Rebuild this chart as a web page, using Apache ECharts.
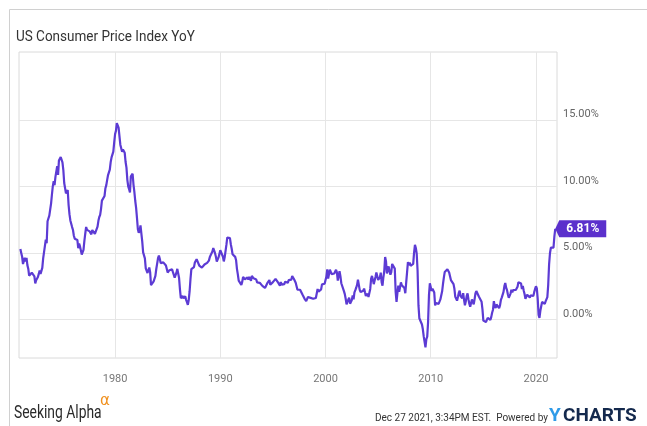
<!DOCTYPE html>
<html><head><meta charset="utf-8">
<script src="https://cdn.jsdelivr.net/npm/echarts@6/dist/echarts.min.js"></script>
<style>html,body{margin:0;padding:0;background:#fff}#chart{width:647px;height:426px}</style>
</head><body><div id="chart"></div>
<script>
// Monthly US CPI YoY (%) starting January 1971, through November 2021
const startYear = 1971;
const cpiYoY = [
  5.29,5.00,4.71,4.16,4.40,4.64,4.36,4.62,4.08,3.81,3.29,3.27,
  3.27,3.51,3.50,3.49,3.23,2.71,2.95,2.94,3.19,3.42,3.67,3.41,
  3.65,3.87,4.59,5.06,5.53,5.99,5.73,7.38,7.36,7.80,8.25,8.71,
  9.39,10.02,10.39,10.09,10.71,10.86,11.51,10.86,11.95,12.06,12.20,12.34,
  11.80,11.23,10.25,10.21,9.47,9.39,9.72,8.60,7.91,7.44,7.38,6.94,
  6.72,6.29,6.07,6.05,6.20,5.97,5.35,5.71,5.49,5.46,4.88,4.86,
  5.22,5.91,6.44,6.95,6.73,6.87,6.83,6.62,6.60,6.39,6.72,6.70,
  6.84,6.43,6.55,6.50,6.97,7.41,7.70,7.86,8.31,8.93,8.89,9.02,
  9.28,9.86,10.09,10.49,10.85,10.89,11.26,11.82,12.18,12.07,12.61,13.29,
  13.91,14.18,14.76,14.73,14.41,14.38,13.13,12.87,12.60,12.77,12.65,12.52,
  11.83,11.41,10.49,10.00,9.78,9.55,10.76,10.80,10.95,10.14,9.59,8.92,
  8.39,7.62,6.78,6.51,6.68,7.06,6.44,5.85,5.04,5.14,4.59,3.83,
  3.71,3.49,3.60,3.90,3.55,2.58,2.46,2.56,2.86,2.85,3.27,3.79,
  4.19,4.60,4.80,4.56,4.23,4.22,4.20,4.29,4.27,4.26,4.05,3.95,
  3.53,3.52,3.70,3.69,3.77,3.76,3.55,3.35,3.14,3.23,3.51,3.80,
  3.89,3.11,2.26,1.59,1.49,1.77,1.58,1.57,1.75,1.47,1.30,1.10,
  1.46,2.10,3.03,3.78,3.86,3.65,3.93,4.28,4.36,4.53,4.53,4.43,
  4.05,3.94,3.93,3.89,3.89,3.96,4.13,4.02,4.17,4.25,4.25,4.42,
  4.67,4.83,4.98,5.11,5.36,5.17,4.98,4.71,4.34,4.49,4.66,4.65,
  5.20,5.26,5.23,4.71,4.36,4.67,4.82,5.62,6.16,6.29,6.27,6.11,
  5.65,5.31,4.90,4.89,4.95,4.70,4.45,3.80,3.39,2.92,2.99,3.06,
  2.60,2.82,3.19,3.18,3.02,3.09,3.16,3.15,2.99,3.20,3.05,2.90,
  3.26,3.25,3.09,3.23,3.22,3.00,2.78,2.77,2.69,2.75,2.68,2.75,
  2.52,2.52,2.51,2.36,2.29,2.49,2.77,2.90,2.96,2.61,2.67,2.67,
  2.80,2.86,2.85,3.05,3.19,3.04,2.76,2.62,2.54,2.81,2.61,2.54,
  2.73,2.65,2.84,2.90,2.89,2.75,2.95,2.88,3.00,2.99,3.26,3.32,
  3.04,3.03,2.76,2.50,2.23,2.30,2.23,2.23,2.15,2.08,1.83,1.70,
  1.57,1.44,1.37,1.44,1.69,1.68,1.68,1.62,1.49,1.49,1.55,1.61,
  1.67,1.61,1.73,2.28,2.09,1.96,2.14,2.26,2.63,2.56,2.62,2.68,
  2.74,3.22,3.76,3.07,3.19,3.73,3.66,3.41,3.45,3.45,3.45,3.39,
  3.73,3.53,2.92,3.27,3.62,3.25,2.72,2.72,2.65,2.13,1.90,1.55,
  1.14,1.14,1.48,1.64,1.18,1.07,1.46,1.80,1.51,2.03,2.20,2.38,
  2.60,2.98,3.02,2.22,2.06,2.11,2.11,2.16,2.32,2.04,1.77,1.88,
  1.93,1.69,1.74,2.29,3.05,3.27,2.99,2.65,2.54,3.19,3.52,3.26,
  2.97,3.01,3.15,3.51,2.80,2.53,3.17,3.64,4.69,4.35,3.46,3.42,
  3.99,3.60,3.36,3.55,4.17,4.32,4.15,3.82,2.06,1.31,1.97,2.54,
  2.08,2.42,2.78,2.57,2.69,2.69,2.36,1.97,2.76,3.54,4.31,4.08,
  4.28,4.03,3.98,3.94,4.18,5.02,5.60,5.37,4.94,3.66,1.07,0.09,
  0.03,0.24,-0.38,-0.74,-1.28,-1.43,-2.10,-1.48,-1.29,-0.18,1.84,2.72,
  2.63,2.14,2.31,2.24,2.02,1.05,1.24,1.15,1.14,1.17,1.14,1.50,
  1.63,2.11,2.68,3.16,3.57,3.56,3.63,3.77,3.87,3.53,3.39,2.96,
  2.93,2.87,2.65,2.30,1.70,1.66,1.41,1.69,1.99,2.16,1.76,1.74,
  1.59,1.98,1.47,1.06,1.36,1.75,1.96,1.52,1.18,0.96,1.24,1.50,
  1.58,1.13,1.51,1.95,2.13,2.07,1.99,1.70,1.66,1.66,1.32,0.76,
  -0.09,-0.03,-0.07,-0.20,-0.04,0.12,0.17,0.20,-0.04,0.17,0.50,0.73,
  1.37,1.02,0.85,1.13,1.02,1.01,0.84,1.06,1.46,1.64,1.69,2.07,
  2.50,2.74,2.38,2.20,1.87,1.63,1.73,1.94,2.23,2.04,2.20,2.11,
  2.07,2.21,2.36,2.46,2.80,2.87,2.95,2.70,2.28,2.52,2.18,1.91,
  1.55,1.52,1.86,2.00,1.79,1.65,1.81,1.75,1.71,1.76,2.05,2.29,
  2.49,2.33,1.54,0.33,0.12,0.65,0.99,1.31,1.37,1.18,1.17,1.36,
  1.40,1.68,2.62,4.16,4.99,5.39,5.37,5.25,5.39,6.22,6.81
];
const xTickYears = [1980, 1990, 2000, 2010, 2020];
const yTickValues = [0, 5, 10, 15];
const titleText = 'US Consumer Price Index YoY';
const latestLabel = '6.81%';

const seriesData = cpiYoY.map((v, i) => [startYear + i / 12, v]);
const lastPoint = seriesData[seriesData.length - 1];

const chart = echarts.init(document.getElementById('chart'), null, {renderer: 'canvas'});
chart.setOption({
  animation: false,
  backgroundColor: '#fff',
  grid: {left: 19, right: 90, top: 52, bottom: 68, show: true, borderColor: '#dadada', borderWidth: 1, backgroundColor: 'transparent'},
  xAxis: {
    type: 'value', min: 1970.87, max: 2022.0,
    axisLine: {show: false},
    axisTick: {show: false, customValues: xTickYears},
    axisLabel: {customValues: xTickYears, color: '#777', fontSize: 11, margin: 16, fontFamily: 'Roboto', formatter: v => String(Math.round(v))},
    splitLine: {show: true, lineStyle: {color: '#e6e6e6', width: 1}}
  },
  yAxis: {
    type: 'value', position: 'right', min: -2.9, max: 20.1,
    axisLine: {show: false},
    axisTick: {show: false, customValues: yTickValues},
    axisLabel: {customValues: yTickValues, color: '#666', fontSize: 11, margin: 6, align: 'left', verticalAlign: 'bottom', fontFamily: 'Roboto', formatter: v => v.toFixed(2) + '%'},
    splitLine: {show: true, lineStyle: {color: '#e6e6e6', width: 1}}
  },
  series: [{
    type: 'line', data: seriesData, showSymbol: false, symbol: 'none',
    lineStyle: {color: '#5c3bd4', width: 2.2},
    markPoint: {
      symbol: 'path://M0,8.5L4,0L51,0L51,17L4,17Z',
      symbolSize: [51, 17], symbolOffset: [25.5, 0],
      itemStyle: {color: '#5b30cc'},
      label: {show: true, formatter: latestLabel, color: '#fff', fontWeight: 'bold', fontSize: 12, fontFamily: 'Roboto', offset: [2, 0]},
      data: [{coord: lastPoint}]
    }
  }],
  graphic: [
    {type: 'line', shape: {x1: 9.5, y1: 9.5, x2: 647, y2: 9.5}, style: {stroke: '#d0d0d0', lineWidth: 1}, silent: true},
    {type: 'line', shape: {x1: 9.5, y1: 9.5, x2: 9.5, y2: 426}, style: {stroke: '#d0d0d0', lineWidth: 1}, silent: true},
    {type: 'text', x: 16, y: 37, scaleX: 0.9, style: {text: titleText, fill: '#333', fontSize: 15, fontFamily: 'Roboto', textVerticalAlign: 'middle'}},
    {type: 'text', x: 14, y: 413, scaleX: 0.73, style: {text: 'Seeking Alpha', fill: '#2a2a2a', fontSize: 19, fontFamily: 'Roboto', textVerticalAlign: 'middle'}},
    {type: 'text', x: 100, y: 401, style: {text: 'α', fill: '#f0901e', fontSize: 15, fontFamily: 'DejaVu Sans', textVerticalAlign: 'middle'}},
    {type: 'text', x: 375, y: 418, style: {text: 'Dec 27 2021, 3:34PM EST.  Powered by', fill: '#333', fontSize: 10, fontFamily: 'Roboto', textVerticalAlign: 'middle'}},
    {type: 'text', x: 549, y: 416, style: {text: 'Y', fill: '#2f9be8', fontSize: 19, fontWeight: 'bold', fontFamily: 'Roboto', textVerticalAlign: 'middle'}},
    {type: 'text', x: 563, y: 416, style: {text: 'CHARTS', fill: '#14294d', fontSize: 19, fontWeight: 'bold', fontFamily: 'Roboto', textVerticalAlign: 'middle'}}
  ]
});
</script></body></html>
